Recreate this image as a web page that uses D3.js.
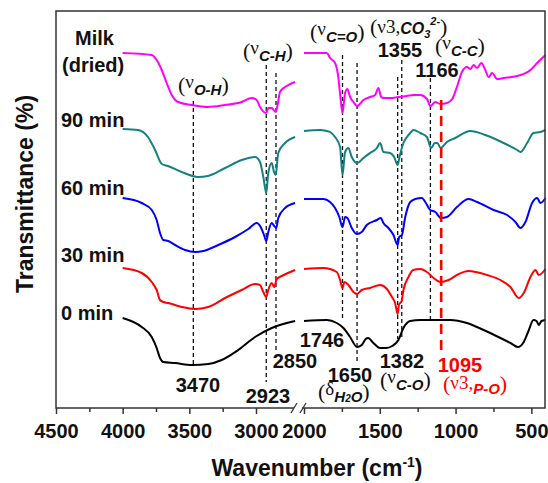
<!DOCTYPE html>
<html>
<head>
<meta charset="utf-8">
<title>FTIR spectra</title>
<style>
  body { margin: 0; background: #fff; }
  text { font-family: "Liberation Sans", Arial, sans-serif; fill: #111; }
  .tick text { font-weight: bold; font-size: 20px; }
  .lbl { font-weight: bold; font-size: 20px; }
  .serif { font-family: "Liberation Serif", "Times New Roman", serif; font-weight: normal; font-style: normal; }
  .sub { font-weight: bold; font-style: italic; }
</style>
</head>
<body>
<div id="chart"></div>
<script src="https://d3js.org/d3.v7.min.js"></script>
<script>

// sample names, top to bottom
var samples = ["Milk", "90 min", "60 min", "30 min", "0 min"];

// offset transmittance, [wavenumber, value]
// high range 4000-2700 cm-1, low range 2000-400 cm-1
var milkHigh = [[4000,355],[3782,353],[3745,348],[3707,338],[3670,325],[3632,313],[3585,306],[3482,303],[3360,301],[3232,303],[3107,306],[3032,310],[2995,308],[2970,301],[2923,295],[2908,300],[2882,300],[2852,296],[2838,303],[2820,316],[2782,321],[2707,326]];
var milkLow = [[2000,355],[1894,355],[1850,355],[1828,350],[1795,345],[1773,330],[1760,311],[1746,295],[1729,315],[1714,319],[1696,311],[1674,306],[1650,302],[1608,308],[1564,311],[1531,313],[1509,320],[1491,311],[1476,310],[1432,310],[1377,311],[1321,312],[1278,313],[1233,313],[1189,309],[1166,302],[1134,306],[1101,304],[1057,305],[1022,309],[991,321],[958,336],[925,341],[903,339],[881,343],[858,340],[830,345],[804,338],[782,331],[759,335],[726,329],[683,330],[594,332],[506,338],[462,345],[407,353]];

var min90High = [[4000,279],[3885,278],[3810,271],[3757,258],[3707,244],[3660,242],[3557,236],[3435,231],[3360,232],[3232,240],[3107,248],[3007,251],[2970,246],[2945,231],[2923,215],[2908,235],[2882,245],[2865,236],[2852,233],[2833,255],[2782,265],[2707,271]];
var min90Low = [[2000,277],[1894,278],[1850,277],[1828,276],[1795,271],[1762,261],[1746,233],[1729,256],[1707,260],[1685,251],[1650,245],[1608,250],[1564,255],[1519,260],[1498,265],[1476,256],[1432,255],[1405,251],[1382,243],[1370,251],[1344,265],[1321,271],[1299,275],[1278,278],[1233,275],[1189,271],[1161,260],[1137,265],[1121,265],[1098,260],[1057,266],[1002,270],[903,277],[804,273],[683,265],[594,258],[572,256],[528,265],[486,275],[440,276],[407,278]];

var min60High = [[4000,210],[3857,205],[3782,198],[3745,188],[3720,175],[3695,168],[3658,167],[3607,163],[3532,158],[3457,156],[3395,157],[3283,163],[3157,171],[3058,179],[2995,185],[2965,181],[2940,173],[2923,167],[2908,176],[2882,185],[2863,182],[2848,180],[2833,190],[2782,200],[2707,205]];
var min60Low = [[2000,209],[1872,209],[1828,206],[1795,200],[1767,191],[1746,181],[1729,191],[1714,190],[1685,180],[1652,174],[1619,176],[1586,183],[1519,188],[1493,190],[1476,185],[1443,180],[1410,173],[1382,163],[1372,171],[1354,173],[1332,191],[1299,206],[1266,209],[1222,210],[1200,206],[1167,198],[1134,196],[1096,190],[1057,191],[991,201],[914,209],[858,206],[749,198],[660,193],[605,186],[572,180],[539,186],[495,205],[462,210],[440,205],[407,210]];

var min30High = [[4000,140],[3857,135],[3782,126],[3745,118],[3720,108],[3695,106],[3658,105],[3557,101],[3457,99],[3358,101],[3232,110],[3107,118],[3007,124],[2970,123],[2945,116],[2923,111],[2908,118],[2882,125],[2863,121],[2845,129],[2807,132],[2707,138]];
var min30Low = [[2000,139],[1872,140],[1784,136],[1762,128],[1746,120],[1734,126],[1707,123],[1674,116],[1650,114],[1619,118],[1564,120],[1498,123],[1453,119],[1420,111],[1399,105],[1382,94],[1374,103],[1356,107],[1344,118],[1311,131],[1280,138],[1233,139],[1189,136],[1145,130],[1098,126],[1046,128],[991,133],[916,137],[792,133],[704,128],[638,121],[583,110],[550,115],[506,131],[473,138],[451,133],[407,139]];

var min0High = [[4000,90],[3857,81],[3782,71],[3745,60],[3720,50],[3695,46],[3607,45],[3482,43],[3358,44],[3257,48],[3133,58],[3007,71],[2882,80],[2707,87]];
var min0Low = [[2000,87],[1850,88],[1784,85],[1740,80],[1696,71],[1650,61],[1619,63],[1593,69],[1577,70],[1542,65],[1498,60],[1458,60],[1418,62],[1377,68],[1344,80],[1299,87],[1233,88],[1035,88],[925,85],[815,78],[704,70],[638,65],[589,61],[550,66],[519,77],[486,88],[466,87],[451,83],[433,87],[407,88]];

// marked bands: wavenumber and the span of the guide line
var bandWn = [3470, 2923, 2850, 1746, 1650, 1382, 1355, 1166];
var bandTop = [307, 343, 335, 353, 345, 331, 348, 330];
var bandBottom = [42, 26, 58, 90, 46, 69, 71, 85];
var poWn = 1095, poTop = 308, poBottom = 58;

var highTicks = [4500, 4000, 3500, 3000];
var highMinor = [4250, 3750, 3250];
var lowTicks = [2000, 1500, 1000, 500];
var lowMinor = [1750, 1250, 750];

var colors = ["#ff00ff", "#138080", "#0000ff", "#ff0000", "#000000"];

var width = 548, height = 483;
var plotLeft = 56, plotRight = 545, plotTop = 11, plotBottom = 408;

var svg = d3.select("#chart").append("svg")
    .attr("width", width)
    .attr("height", height);

var xL = d3.scaleLinear().domain([4500, 2700]).range([plotLeft, 296]);
var xR = d3.scaleLinear().domain([2000, 410]).range([304, plotRight]);
var y = d3.scaleLinear().domain([0, 397]).range([plotBottom, plotTop]);

function xPos(wn) { return wn > 2350 ? xL(wn) : xR(wn); }

// spectra
var line = d3.line()
    .x(function(d) { return xPos(d[0]); })
    .y(function(d) { return y(d[1]); })
    .curve(d3.curveMonotoneX);

var spectra = [[milkHigh, milkLow], [min90High, min90Low], [min60High, min60Low],
               [min30High, min30Low], [min0High, min0Low]];

// guide lines
svg.selectAll(".guide")
    .data(bandWn)
  .enter().append("line")
    .attr("class", "guide")
    .attr("x1", function(d) { return xPos(d); })
    .attr("x2", function(d) { return xPos(d); })
    .attr("y1", function(d, i) { return y(bandTop[i]); })
    .attr("y2", function(d, i) { return y(bandBottom[i]); })
    .attr("stroke", "#111")
    .attr("stroke-width", 1.3)
    .attr("stroke-dasharray", "4,3");

spectra.forEach(function(s, i) {
  s.forEach(function(seg) {
    svg.append("path")
      .datum(seg)
      .attr("d", line)
      .attr("fill", "none")
      .attr("stroke", colors[i])
      .attr("stroke-width", 2)
      .attr("stroke-linejoin", "round");
  });
});

svg.append("line")
    .attr("x1", xPos(poWn)).attr("x2", xPos(poWn))
    .attr("y1", y(poTop)).attr("y2", y(poBottom))
    .attr("stroke", "#ff0000")
    .attr("stroke-width", 2.6)
    .attr("stroke-dasharray", "10,6");

// frame
svg.append("rect")
    .attr("x", plotLeft).attr("y", plotTop)
    .attr("width", plotRight - plotLeft).attr("height", plotBottom - plotTop)
    .attr("fill", "none")
    .attr("stroke", "#333")
    .attr("stroke-width", 1.5);

// axes
function drawAxis(scale, values, size, labels) {
  var g = svg.append("g")
      .attr("transform", "translate(0," + plotBottom + ")")
      .call(d3.axisBottom(scale).tickValues(values).tickSize(size)
            .tickFormat(labels ? d3.format("d") : ""));
  g.select(".domain").remove();
  g.selectAll(".tick line").attr("stroke", "#333").attr("stroke-width", 1.5);
  g.selectAll("text").attr("y", 30).attr("dy", null).attr("fill", "#111");
  return g;
}
drawAxis(xL, highTicks, 6, true);
drawAxis(xL, highMinor, 4, false);
drawAxis(xR, lowTicks, 6, true);
drawAxis(xR, lowMinor, 4, false);

// axis break
svg.append("rect").attr("x", 294).attr("y", plotBottom - 2).attr("width", 8).attr("height", 4).attr("fill", "#fff");
[291, 300].forEach(function(bx) {
  svg.append("line")
    .attr("x1", bx).attr("y1", plotBottom + 5)
    .attr("x2", bx + 6).attr("y2", plotBottom - 5)
    .attr("stroke", "#333").attr("stroke-width", 1.3);
});

// axis titles
var xt = svg.append("text")
    .attr("x", 317).attr("y", 476)
    .attr("text-anchor", "middle")
    .attr("font-weight", "bold").attr("font-size", 23);
xt.append("tspan").text("Wavenumber (cm");
xt.append("tspan").attr("font-size", 14).attr("dy", -9).text("-1");
xt.append("tspan").attr("dy", 9).text(")");

svg.append("text")
    .attr("transform", "translate(33,194) rotate(-90)")
    .attr("text-anchor", "middle")
    .attr("font-weight", "bold").attr("font-size", 23)
    .text("Transmittance (%)");

// sample labels
var sampleY = [45, 127, 195, 262, 320];
samples.forEach(function(s, i) {
  svg.append("text").attr("class", "lbl")
    .attr("x", i === 0 ? 75 : 61).attr("y", sampleY[i])
    .text(s);
});
svg.append("text").attr("class", "lbl").attr("x", 62).attr("y", 72).text("(dried)");

// peak numbers
var peakLabels = [
  ["3470", 198, 392], ["2923", 268, 403], ["2850", 295, 368], ["1746", 322, 347],
  ["1650", 350, 382], ["1382", 402, 368], ["1355", 400, 57], ["1166", 437, 77]
];
peakLabels.forEach(function(p) {
  svg.append("text").attr("class", "lbl")
    .attr("x", p[1]).attr("y", p[2])
    .attr("text-anchor", "middle")
    .text(p[0]);
});
svg.append("text").attr("class", "lbl")
    .attr("x", 460).attr("y", 372)
    .attr("text-anchor", "middle")
    .style("fill", "#ff0000")
    .text("1095");

// vibration mode labels: (greek + subscript)
function modeLabel(x, yb, parts, color) {
  var t = svg.append("text").attr("x", x).attr("y", yb);
  var shift = 0;
  parts.forEach(function(p) {
    var sp = t.append("tspan").text(p.t)
      .attr("class", p.c)
      .attr("font-size", p.s)
      .attr("dy", p.o - shift);
    if (color) sp.style("fill", color);
    shift = p.o;
  });
  return t;
}
function nu(sym, sub) {
  return [
    {t: "(", c: "serif", s: 22, o: 0},
    {t: sym, c: "serif", s: 19, o: -4},
    {t: sub, c: "sub", s: 15, o: 3},
    {t: ")", c: "serif", s: 22, o: 0}
  ];
}
modeLabel(178, 92, nu("\u03bd", "O-H"));
modeLabel(243, 58, nu("\u03bd", "C-H"));
modeLabel(310, 39, nu("\u03bd", "C=O"));
modeLabel(435, 53, nu("\u03bd", "C-C"));
modeLabel(380, 387, nu("\u03bd", "C-O"));
modeLabel(318, 399, [
  {t: "(", c: "serif", s: 22, o: 0},
  {t: "\u03b4", c: "serif", s: 19, o: -4},
  {t: "H", c: "sub", s: 15, o: 3},
  {t: "2", c: "sub", s: 10, o: 3},
  {t: "O", c: "sub", s: 15, o: 3},
  {t: ")", c: "serif", s: 22, o: 0}
]);
modeLabel(370, 34, [
  {t: "(", c: "serif", s: 22, o: 0},
  {t: "\u03bd3,", c: "serif", s: 19, o: -1},
  {t: "CO", c: "sub", s: 16, o: 0},
  {t: "3", c: "sub", s: 11, o: 4},
  {t: "2-", c: "sub", s: 11, o: -9},
  {t: ")", c: "serif", s: 22, o: 0}
]);
modeLabel(443, 391, [
  {t: "(", c: "serif", s: 22, o: 0},
  {t: "\u03bd3,", c: "serif", s: 19, o: -2},
  {t: "P-O", c: "sub", s: 15, o: 3},
  {t: ")", c: "serif", s: 22, o: 0}
], "#ff0000");

</script>
</body>
</html>
